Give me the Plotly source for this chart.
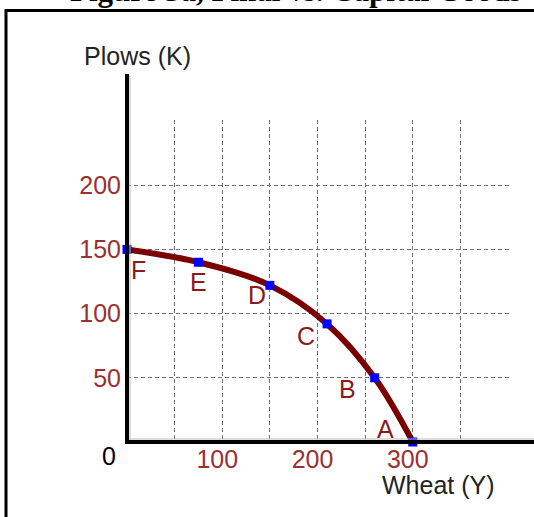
import plotly.graph_objects as go

# ---------------------------------------------------------------------------
# Data: production possibilities, wheat vs. plows
# ---------------------------------------------------------------------------
wheat = [0, 75, 150, 210, 260, 300]
plows = [150, 140, 122, 92, 50, 0]
letters = ["F", "E", "D", "C", "B", "A"]

x_grid = [0, 50, 100, 150, 200, 250, 300, 350, 400]
x_text = ["", "", "100", "", "200", "", "300", "", ""]
y_grid = [0, 50, 100, 150, 200, 250]
y_text = ["", "50", "100", "150", "200", ""]

title_text = "Figure 5a, Final vs. Capital Goods"
x_title = "Wheat (Y)"
y_title = "Plows (K)"

# label offsets in pixels (dx, dy up)
label_shift = [(11, -21), (0, -20), (-13, -10), (-21, -12), (-27, -11), (-27, 13)]

W, H = 534, 517
RED = "#9b3030"
DARK_RED = "#8b1a1a"
FONT = "Arial, Liberation Sans, sans-serif"


def px_x(p):
    return p / W


def px_y(p):
    return (H - p) / H


fig = go.Figure()
fig.add_trace(go.Scatter(
    x=wheat, y=plows,
    mode="lines+markers",
    line=dict(color="#7a0000", width=6, shape="spline"),
    marker=dict(symbol="square", size=9, color="#0000ff"),
    cliponaxis=False,
    hoverinfo="skip",
    showlegend=False,
))

for xv, yv, lab, (dx, dy) in zip(wheat, plows, letters, label_shift):
    fig.add_annotation(x=xv, y=yv, text=lab, showarrow=False,
                       xshift=dx, yshift=dy,
                       font=dict(family=FONT, size=25, color=DARK_RED))

grid_style = dict(showgrid=True, gridcolor="#707070", gridwidth=1,
                  griddash="4px,3px", zeroline=False, showline=False, ticks="")

# ranges padded a hair so the outer grid lines at 400 / 250 are kept
fig.update_xaxes(domain=[px_x(127), px_x(508.5)], range=[0, 400.5],
                 tickvals=x_grid, ticktext=x_text, ticklabelshift=-5,
                 tickfont=dict(family=FONT, size=25, color=RED), **grid_style)
fig.update_yaxes(domain=[px_y(442), px_y(120.4)], range=[0, 250.5],
                 tickvals=y_grid, ticktext=y_text, ticklabelstandoff=5,
                 tickfont=dict(family=FONT, size=25, color=RED), **grid_style)

shapes = [
    # outer frame (runs off the right and bottom)
    dict(type="rect", xref="paper", yref="paper", x0=px_x(6), x1=1.2,
         y0=-0.2, y1=px_y(10.5), line=dict(color="black", width=3)),
    # light shadow lines inside the axes
    dict(type="line", xref="paper", yref="paper", x0=px_x(130), x1=px_x(130),
         y0=px_y(440), y1=px_y(76), line=dict(color="#bbbbbb", width=1)),
    dict(type="line", xref="paper", yref="paper", x0=px_x(130), x1=1,
         y0=px_y(439), y1=px_y(439), line=dict(color="#bbbbbb", width=1)),
    # axis lines
    dict(type="line", xref="paper", yref="paper", x0=px_x(127), x1=px_x(127),
         y0=px_y(444), y1=px_y(74), line=dict(color="black", width=4)),
    dict(type="line", xref="paper", yref="paper", x0=px_x(125), x1=1,
         y0=px_y(442), y1=px_y(442), line=dict(color="black", width=4)),
]

text_pos = dict(xref="paper", yref="paper", showarrow=False,
                xanchor="center", yanchor="middle")
fig.add_annotation(x=px_x(296), y=px_y(-10), text="<b>%s</b>" % title_text,
                   font=dict(family="Liberation Serif, Times New Roman, serif",
                             size=31, color="black"), **text_pos)
fig.add_annotation(x=px_x(137), y=px_y(56), text=y_title,
                   font=dict(family=FONT, size=25, color="#222222"), **text_pos)
fig.add_annotation(x=px_x(438), y=px_y(485), text=x_title,
                   font=dict(family=FONT, size=25, color="#222222"), **text_pos)
fig.add_annotation(x=px_x(109), y=px_y(456), text="0",
                   font=dict(family=FONT, size=25, color="black"), **text_pos)

fig.update_layout(
    width=W, height=H,
    margin=dict(l=0, r=0, t=0, b=0),
    paper_bgcolor="white", plot_bgcolor="white",
    shapes=shapes,
)

fig.write_html("out.html", config={"displayModeBar": False},
               post_script="document.body.style.margin='0';")
